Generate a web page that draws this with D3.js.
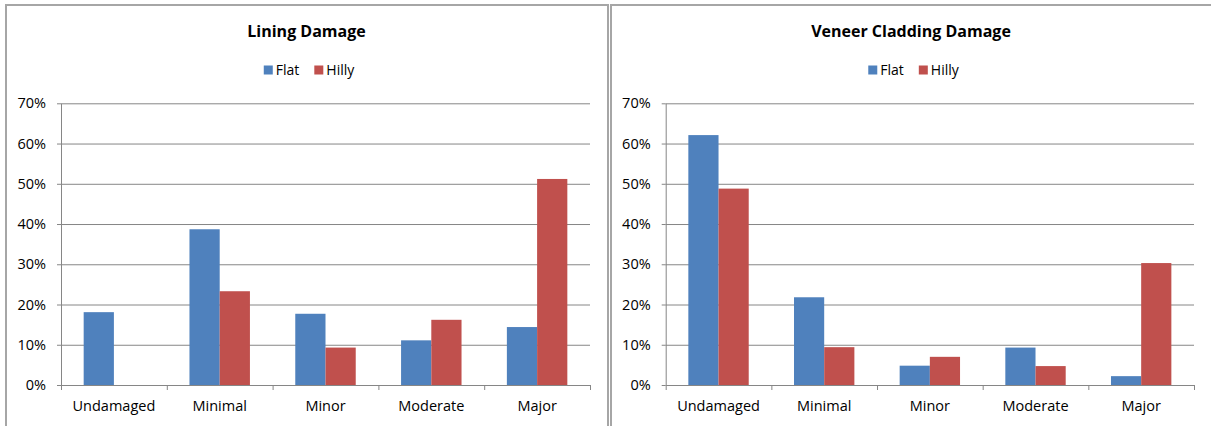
<!DOCTYPE html>
<html>
<head>
<meta charset="utf-8">
<script src="https://cdn.jsdelivr.net/npm/d3@7"></script>
<style>
  html, body { margin: 0; padding: 0; background: #ffffff; }
  svg { display: block; }
  text { font-family: "Open Sans", "Noto Sans", sans-serif; fill: #000; }
</style>
</head>
<body>
<svg id="chart" width="1211" height="426"></svg>
<script>
// Damage categories and the share of houses in each, by terrain
const categories = ["Undamaged", "Minimal", "Minor", "Moderate", "Major"];
const seriesNames = ["Flat", "Hilly"];
const liningFlat  = [0.181, 0.387, 0.177, 0.111, 0.144];
const liningHilly = [0.000, 0.233, 0.093, 0.162, 0.512];
const veneerFlat  = [0.621, 0.218, 0.048, 0.093, 0.022];
const veneerHilly = [0.488, 0.094, 0.070, 0.047, 0.303];
const yTicks = [0, 0.1, 0.2, 0.3, 0.4, 0.5, 0.6, 0.7];

const colors = { Flat: "#4F81BD", Hilly: "#C0504D" };
const gridColor = "#868686";
const frameColor = "#a6a6a6";

const svg = d3.select("#chart");

const panels = [
  { title: "Lining Damage", flat: liningFlat, hilly: liningHilly,
    frame: [6, 5, 602], centre: 306.5, plot: [61, 590] },
  { title: "Veneer Cladding Damage", flat: veneerFlat, hilly: veneerHilly,
    frame: [611, 5, 620], centre: 911, plot: [665.7, 1194] }
];

const plotTop = 103.3, plotBottom = 385;
const y = d3.scaleLinear().domain([0, 0.7]).range([plotBottom, plotTop]);
const labelSize = "14.5px";

panels.forEach(p => {
  const g = svg.append("g");
  const [fx, fy, fw] = p.frame;

  // chart frame
  g.append("rect")
    .attr("x", fx).attr("y", fy)
    .attr("width", fw).attr("height", 440)
    .attr("fill", "#fff")
    .attr("stroke", frameColor).attr("stroke-width", 2);

  // title
  g.append("text")
    .attr("x", p.centre).attr("y", 37)
    .attr("text-anchor", "middle")
    .attr("font-size", "16px").attr("font-weight", "bold")
    .text(p.title);

  // legend, centred under the title
  const legend = g.append("g");
  const items = seriesNames.map(name => {
    const it = legend.append("g");
    it.append("rect").attr("x", 0).attr("y", 65.5).attr("width", 9).attr("height", 9)
      .attr("fill", colors[name]);
    it.append("text").attr("x", 12).attr("y", 75).attr("font-size", "14px").text(name);
    return it;
  });
  const widths = items.map(it => it.node().getBBox().width);
  const gap = 15;
  const total = d3.sum(widths) + gap * (items.length - 1);
  let start = p.centre + 3 - total / 2;
  items.forEach((it, i) => {
    it.attr("transform", `translate(${start},0)`);
    start += widths[i] + gap;
  });

  const x = d3.scaleBand().domain(categories).range(p.plot).paddingInner(0).paddingOuter(0);
  const xs = d3.scaleBand().domain(seriesNames).range([0, x.bandwidth()])
    .paddingInner(0).paddingOuter(0.75);
  const plotW = p.plot[1] - p.plot[0];

  // horizontal gridlines
  g.append("g")
    .attr("transform", `translate(${p.plot[0]},0)`)
    .call(d3.axisLeft(y).tickValues(yTicks.slice(1)).tickSize(-plotW).tickFormat(""))
    .call(a => a.select(".domain").remove())
    .call(a => a.selectAll("line").attr("stroke", gridColor).attr("stroke-width", 1));

  // y axis with outside tick marks and percentage labels
  g.append("g")
    .attr("transform", `translate(${p.plot[0]},0)`)
    .call(d3.axisLeft(y).tickValues(yTicks).tickSize(4).tickPadding(11)
      .tickFormat(d3.format(".0%")).tickSizeOuter(0))
    .call(a => a.select(".domain").attr("stroke", gridColor))
    .call(a => a.selectAll("line").attr("stroke", gridColor))
    .call(a => a.selectAll("text").attr("font-size", labelSize)
      .attr("font-family", "'Open Sans', sans-serif").attr("fill", "#000"));

  // bars
  const rows = categories.map((c, i) => ({ cat: c, Flat: p.flat[i], Hilly: p.hilly[i] }));
  g.append("g").selectAll("g").data(rows).join("g")
    .attr("transform", d => `translate(${x(d.cat)},0)`)
    .selectAll("rect")
    .data(d => seriesNames.map(s => ({ s, v: d[s] })))
    .join("rect")
      .attr("x", d => xs(d.s))
      .attr("width", xs.bandwidth())
      .attr("y", d => y(d.v))
      .attr("height", d => plotBottom - y(d.v))
      .attr("fill", d => colors[d.s]);

  // x axis line and category boundary ticks
  const bounds = categories.map(c => x(c)).concat([p.plot[1]]);
  const xb = d3.scaleLinear().domain([p.plot[0], p.plot[1]]).range(p.plot);
  g.append("g")
    .attr("transform", `translate(0,${plotBottom})`)
    .call(d3.axisBottom(xb).tickValues(bounds).tickSize(5).tickFormat("").tickSizeOuter(0))
    .call(a => a.select(".domain").attr("stroke", gridColor))
    .call(a => a.selectAll("line").attr("stroke", gridColor));

  // category labels
  g.append("g")
    .attr("transform", `translate(0,${plotBottom})`)
    .call(d3.axisBottom(x).tickSize(0).tickPadding(16))
    .call(a => a.select(".domain").remove())
    .call(a => a.selectAll("text").attr("font-size", labelSize)
      .attr("font-family", "'Open Sans', sans-serif").attr("fill", "#000"));
});
</script>
</body>
</html>
